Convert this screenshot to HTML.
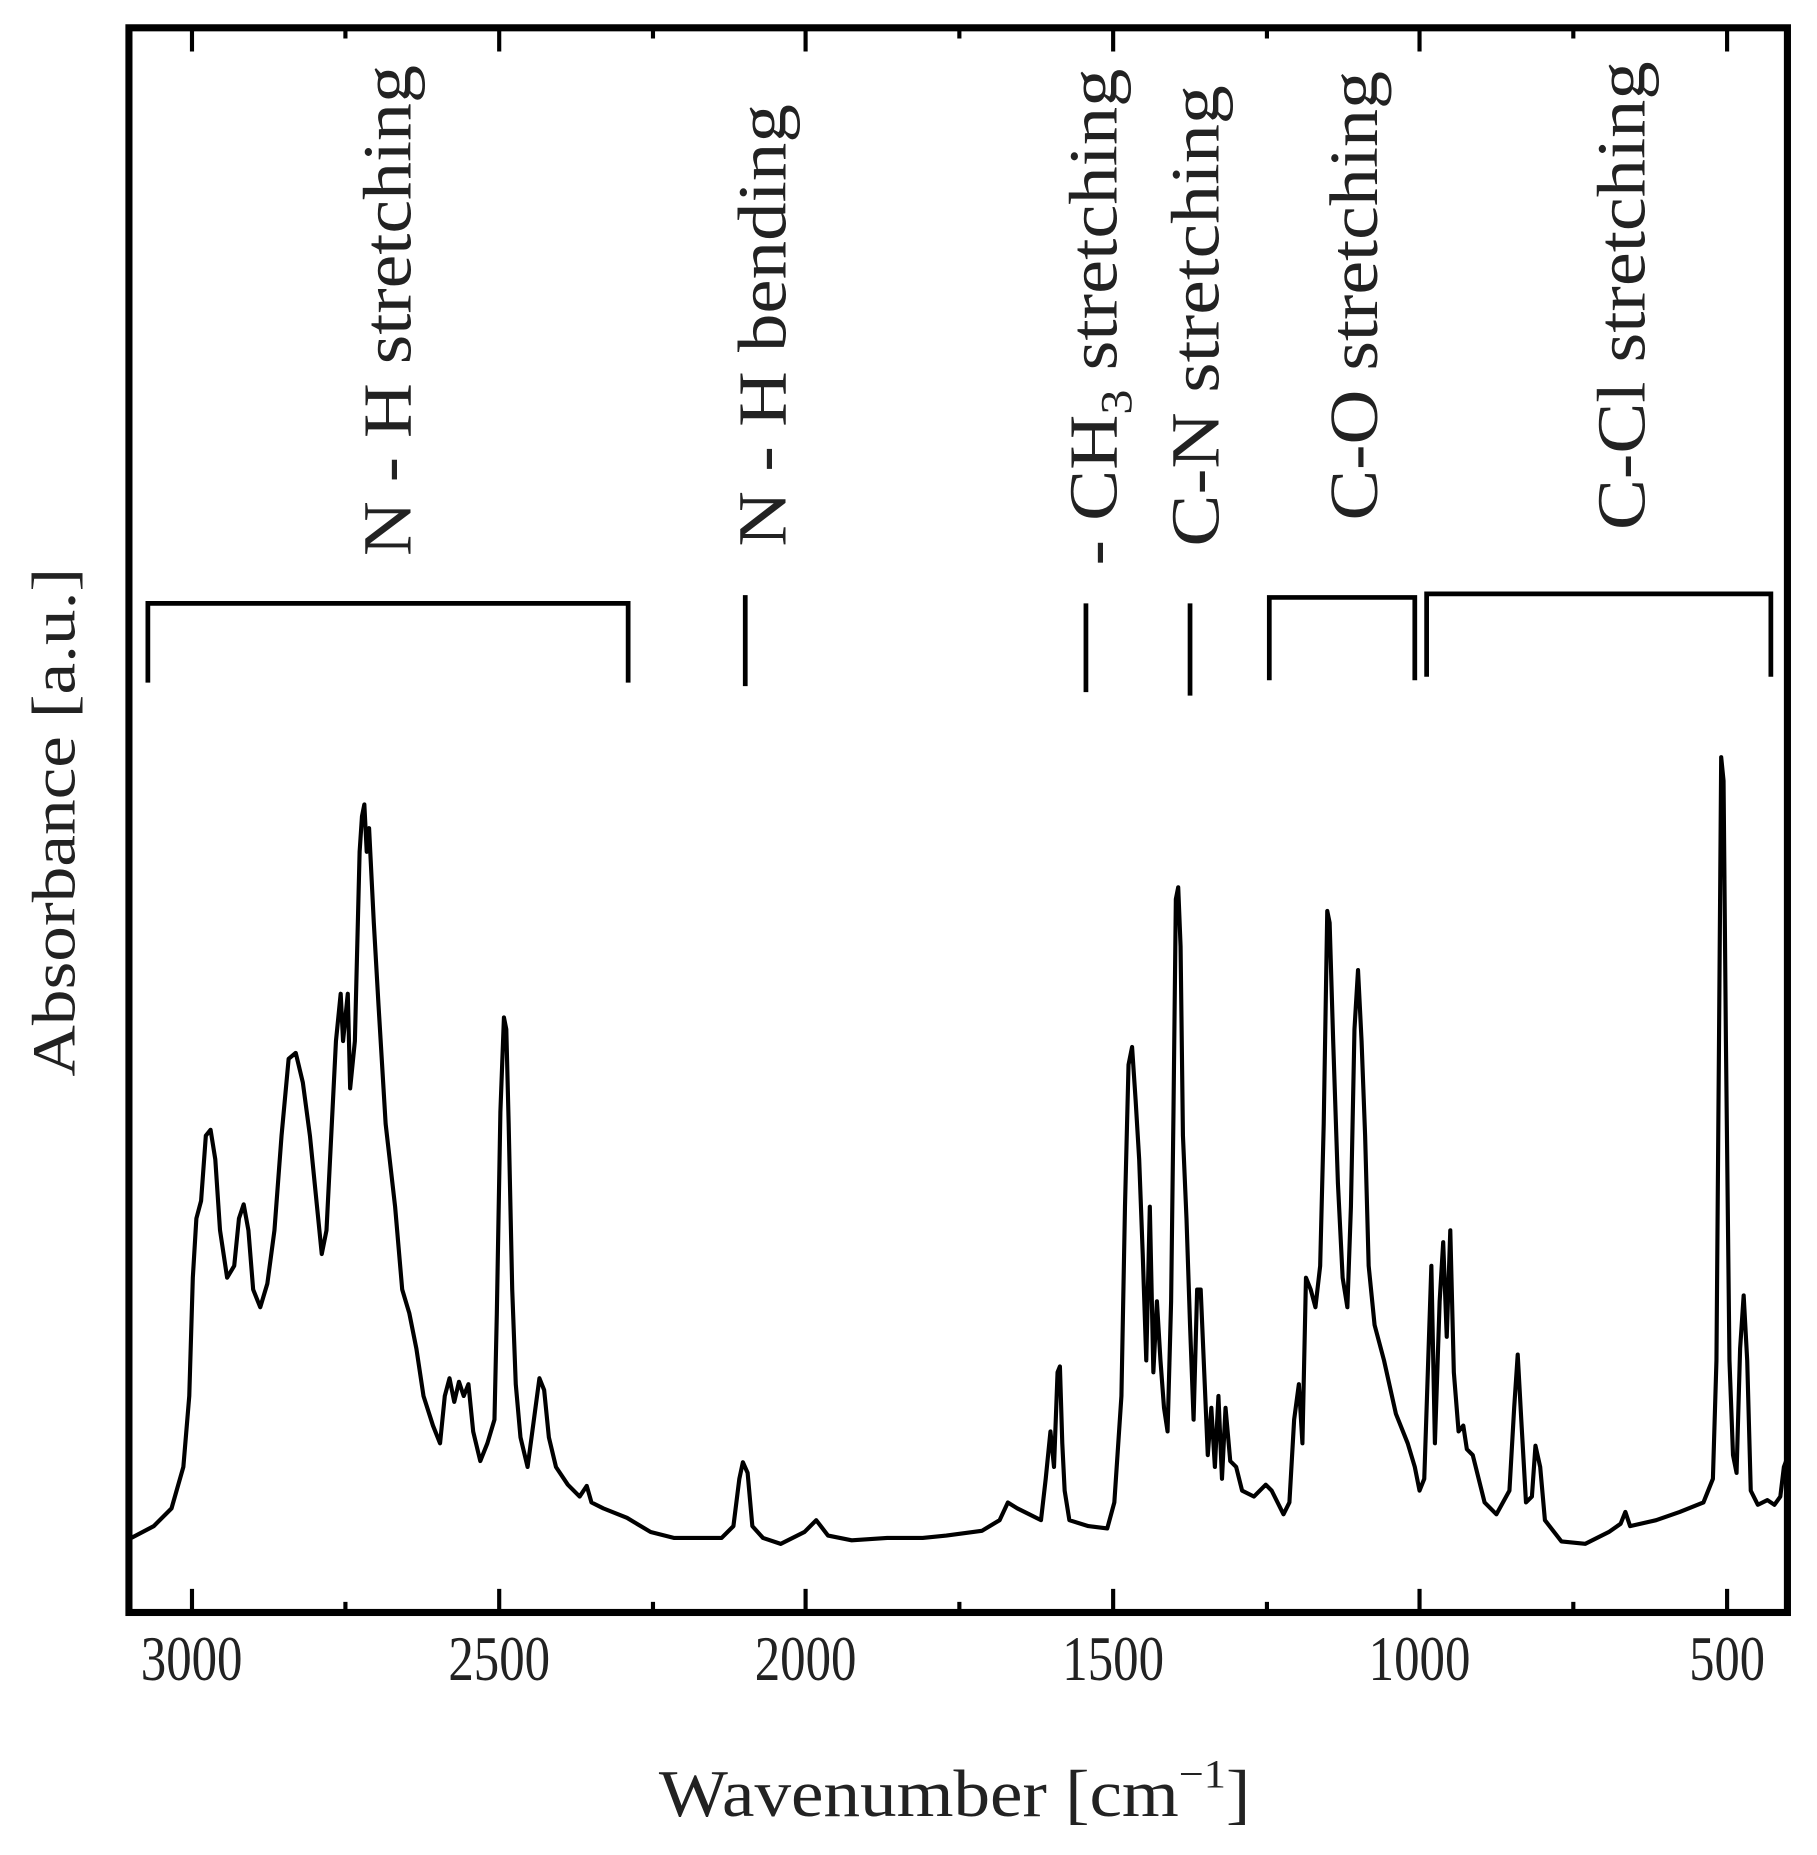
<!DOCTYPE html>
<html><head><meta charset="utf-8"><style>html,body{margin:0;padding:0;background:#fff}svg{display:block}</style></head>
<body>
<svg width="1817" height="1855" viewBox="0 0 1536 1568" preserveAspectRatio="none" xmlns="http://www.w3.org/2000/svg" font-family="'Liberation Serif', serif" fill="#222">
<rect x="109" y="23.5" width="1402" height="1339.5" fill="none" stroke="#000" stroke-width="6"/>
<g stroke="#000" stroke-width="3.5">
<path d="M162.3 1363v-20M292 1363v-9M422 1363v-20M552 1363v-9M681 1363v-20M811 1363v-9M941 1363v-20M1071 1363v-9M1200 1363v-20M1330 1363v-9M1460 1363v-20"/>
<path d="M162.3 23.5v20M292 23.5v9M422 23.5v20M552 23.5v9M681 23.5v20M811 23.5v9M941 23.5v20M1071 23.5v9M1200 23.5v20M1330 23.5v9M1460 23.5v20"/>
</g>
<g font-size="54" text-anchor="middle">
<text x="162" y="1420" textLength="86" lengthAdjust="spacingAndGlyphs">3000</text>
<text x="422" y="1420" textLength="86" lengthAdjust="spacingAndGlyphs">2500</text>
<text x="681" y="1420" textLength="86" lengthAdjust="spacingAndGlyphs">2000</text>
<text x="941" y="1420" textLength="86" lengthAdjust="spacingAndGlyphs">1500</text>
<text x="1200" y="1420" textLength="86" lengthAdjust="spacingAndGlyphs">1000</text>
<text x="1460" y="1420" textLength="64" lengthAdjust="spacingAndGlyphs">500</text>
</g>
<text x="557" y="1535" font-size="56" textLength="500" lengthAdjust="spacingAndGlyphs">Wavenumber [cm<tspan dy="-24" font-size="34">−1</tspan><tspan dy="24">]</tspan></text>
<text transform="translate(63,910) rotate(-90)" font-size="52" textLength="430" lengthAdjust="spacingAndGlyphs">Absorbance [a.u.]</text>
<g font-size="58">
<text transform="translate(347,470) rotate(-90)" textLength="415" lengthAdjust="spacingAndGlyphs">N - H stretching</text>
<text transform="translate(664,462) rotate(-90)" textLength="374" lengthAdjust="spacingAndGlyphs">N - H bending</text>
<text transform="translate(944,478) rotate(-90)" textLength="420" lengthAdjust="spacingAndGlyphs">- CH<tspan dy="12" font-size="38">3</tspan><tspan dy="-12"> stretching</tspan></text>
<text transform="translate(1030,462) rotate(-90)" textLength="390" lengthAdjust="spacingAndGlyphs">C-N stretching</text>
<text transform="translate(1164,440) rotate(-90)" textLength="380" lengthAdjust="spacingAndGlyphs">C-O stretching</text>
<text transform="translate(1390,448) rotate(-90)" textLength="396" lengthAdjust="spacingAndGlyphs">C-Cl stretching</text>
</g>
<g stroke="#000" stroke-width="4" fill="none">
<path d="M125 577V510H531V577"/>
<path d="M630 503V580"/>
<path d="M918 510V585"/>
<path d="M1006 510V588"/>
<path d="M1073 575V505H1196V575"/>
<path d="M1206 572V502H1497V572"/>
</g>
<polyline fill="none" stroke="#000" stroke-width="3.5" stroke-linejoin="round" points="111,1300 130,1290 145,1275 155,1240 160,1180 163,1080 166,1030 170,1015 174,960 178,955 182,980 186,1040 192,1080 198,1070 202,1030 206,1018 210,1040 214,1090 220,1105 226,1085 232,1040 238,960 244,895 250,890 256,915 262,960 268,1020 272,1060 276,1040 280,960 284,880 288,840 290,880 294,840 296,920 300,880 304,720 306,690 308,680 310,720 312,700 316,780 320,850 326,950 334,1020 340,1090 346,1110 352,1140 358,1180 366,1205 372,1220 376,1180 380,1165 384,1185 388,1168 392,1180 396,1170 400,1210 406,1235 412,1220 418,1200 420,1110 423,940 426,860 428,870 430,950 433,1090 436,1170 440,1215 446,1240 452,1195 456,1165 460,1175 464,1215 470,1240 480,1255 490,1265 496,1256 500,1270 510,1275 530,1283 550,1295 570,1300 590,1300 610,1300 620,1290 625,1250 628,1236 632,1245 636,1290 645,1300 660,1305 680,1295 690,1285 700,1298 720,1302 750,1300 780,1300 800,1298 830,1294 845,1285 852,1270 860,1275 870,1280 880,1285 884,1250 888,1210 891,1240 894,1160 896,1155 898,1220 900,1260 904,1285 920,1290 936,1292 942,1270 948,1180 951,1020 954,900 957,885 960,930 963,980 966,1060 969,1150 972,1020 975,1160 978,1100 981,1150 984,1190 987,1210 990,1100 992,940 994,760 996,750 998,800 1000,960 1003,1030 1006,1120 1009,1200 1012,1090 1015,1090 1018,1160 1021,1230 1024,1190 1027,1240 1030,1180 1033,1250 1036,1190 1040,1235 1045,1240 1050,1260 1060,1265 1070,1255 1075,1260 1085,1280 1090,1270 1094,1200 1098,1170 1101,1220 1104,1080 1108,1090 1112,1105 1116,1070 1119,950 1122,770 1124,780 1127,880 1131,1000 1135,1080 1139,1105 1142,1020 1145,870 1148,820 1151,880 1154,960 1157,1070 1162,1120 1170,1150 1180,1195 1190,1220 1196,1240 1200,1260 1204,1250 1207,1160 1210,1070 1213,1220 1217,1100 1220,1050 1223,1130 1226,1040 1229,1160 1233,1210 1237,1205 1240,1225 1245,1230 1255,1270 1265,1280 1276,1260 1280,1190 1283,1145 1286,1200 1290,1270 1295,1265 1298,1222 1302,1240 1306,1285 1320,1303 1340,1305 1360,1295 1370,1288 1374,1278 1378,1290 1400,1285 1420,1278 1440,1270 1448,1250 1451,1150 1453,900 1455,640 1457,660 1459,880 1462,1150 1465,1230 1468,1245 1471,1140 1474,1095 1477,1150 1480,1260 1486,1272 1494,1268 1500,1272 1505,1265 1508,1240 1511,1232"/>
</svg>
</body></html>
